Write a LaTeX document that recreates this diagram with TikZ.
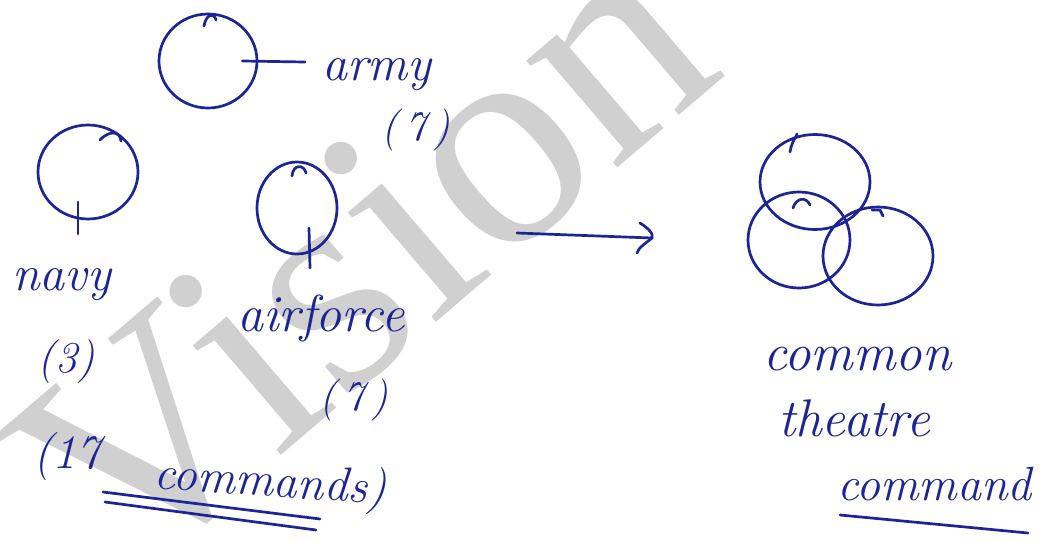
\documentclass[tikz,border=0pt]{standalone}
\usepackage{fontspec}
\newfontfamily\wmfont{Liberation Serif}
\usetikzlibrary{shapes.geometric}
\definecolor{ink}{RGB}{28,36,150}
\definecolor{wmgray}{RGB}{208,208,208}
\begin{document}
\begin{tikzpicture}[x=1pt,y=-1pt,
  pen/.style={draw=ink, line width=2.7pt, line cap=round, line join=round},
  ring/.style={ellipse, draw=ink, line width=2.7pt, inner sep=0pt},
  hand/.style={text=ink, inner sep=0pt, font=\fontsize{#1}{#1}\selectfont\itshape},
  hand/.default=48]
\fill[white] (0,0) rectangle (1055,541);
\useasboundingbox (0,0) rectangle (1055,541);
\begin{scope}
\clip (0,0) rectangle (1055,541);
\node[text=wmgray, font=\wmfont\fontsize{306}{306}\selectfont, rotate=40.5,
      anchor=base west, inner sep=0pt] (wm) at (122,591) {Vision};
\end{scope}

% left group
\node[ring, minimum width=98pt, minimum height=94pt] (army) at (208,61) {};
\node[ring, minimum width=100pt, minimum height=94pt] (navy) at (88,172) {};
\node[ring, minimum width=80pt, minimum height=92pt] (air) at (297,208) {};
% hooks
\draw[pen] (204,26) .. controls (206,14) and (214,12) .. (216,20);
\draw[pen] (100,140) .. controls (108,131) and (120,130) .. (121,141);
\draw[pen] (292,176) .. controls (293,164) and (304,164) .. (306,173);
% stems
\coordinate (armyend) at (305,62);
\draw[pen] ([xshift=-16pt]army.east) -- (armyend);
\coordinate (navyend) at (78,234);
\draw[pen] (78,202) -- (navyend);
\coordinate (airend) at (310,268);
\draw[pen] (309,228) -- (airend);

\node[hand=50, anchor=base west] (armyt) at (322,80) {army};
\node[hand=42] (army7) at (416,130) {(\,7\,)};
\node[hand=50, anchor=base west] (navyt) at (12,290) {navy};
\node[hand=44] (navy3) at (66,362) {(3)};
\node[hand=52, anchor=base west] (airt) at (237,331) {airforce};
\node[hand=42] (air7) at (354,400) {(\,7\,)};
\node[hand=48, anchor=base west] (c17) at (33,468) {(17};
\node[hand=48, anchor=base west, rotate=-4] (cmds) at (153,488) {commands)};
\coordinate (u1a) at (103,492); \coordinate (u1b) at (320,519);
\coordinate (u2a) at (105,502); \coordinate (u2b) at (316,530);
\draw[pen] (u1a) -- (u1b);
\draw[pen] (u2a) -- (u2b);

% arrow
\coordinate (arrA) at (517,233);
\coordinate (arrB) at (652,238);
\draw[pen] (arrA) -- (arrB);
\draw[pen] (640,223) .. controls (648,228) and (654,234) .. (arrB) .. controls (646,243) and (638,248) .. (637,253);

% right group
\node[ring, minimum width=110pt, minimum height=95pt] (c1) at (815,182) {};
\node[ring, minimum width=102pt, minimum height=96pt] (c2) at (799,240) {};
\node[ring, minimum width=110pt, minimum height=98pt] (c3) at (878,256) {};
\draw[pen] (790,152) .. controls (792,140) and (797,136) .. (797,134);
\draw[pen] (793,208) .. controls (796,198) and (806,196) .. (810,205);
\draw[pen] (872,210) -- (880,210) -- (883,216);

\node[hand=53, anchor=base west] (common) at (763,370) {common};
\node[hand=53, anchor=base west] (theatre) at (778,436) {theatre};
\node[hand=48, anchor=base west] (command) at (837,500) {command};
\coordinate (ulA) at (840,515); \coordinate (ulB) at (1028,533);
\draw[pen] (ulA) -- (ulB);
\end{tikzpicture}
\end{document}
